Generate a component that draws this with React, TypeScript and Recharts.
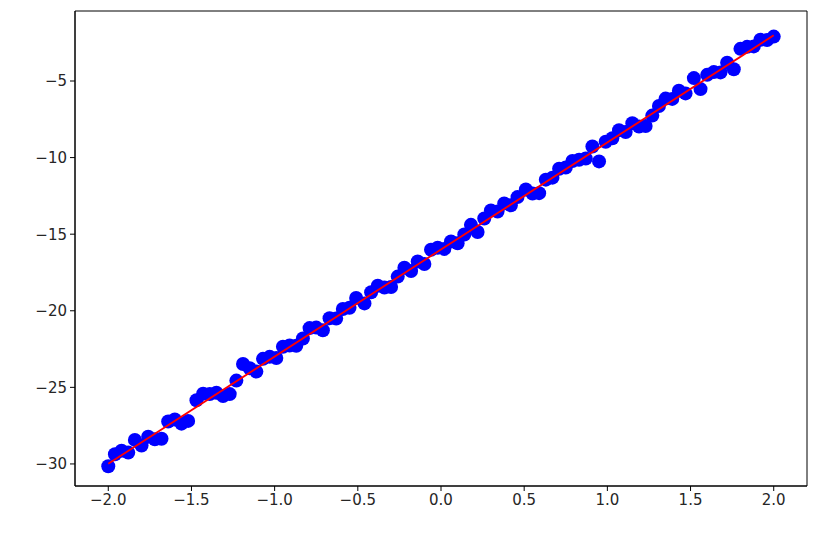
import React from "react";
import {
  ReferenceArea,
  Scatter,
  ScatterChart,
  XAxis,
  YAxis,
} from "recharts";

const xs = [
  -2.0, -1.96, -1.92, -1.88, -1.84, -1.8, -1.76, -1.72, -1.68, -1.64,
  -1.6, -1.56, -1.52, -1.47, -1.43, -1.39, -1.35, -1.31, -1.27, -1.23,
  -1.19, -1.15, -1.11, -1.07, -1.03, -0.99, -0.95, -0.91, -0.87, -0.83,
  -0.79, -0.75, -0.71, -0.67, -0.63, -0.59, -0.55, -0.51, -0.46, -0.42,
  -0.38, -0.34, -0.3, -0.26, -0.22, -0.18, -0.14, -0.1, -0.06, -0.02,
  0.02, 0.06, 0.1, 0.14, 0.18, 0.22, 0.26, 0.3, 0.34, 0.38,
  0.42, 0.46, 0.51, 0.55, 0.59, 0.63, 0.67, 0.71, 0.75, 0.79,
  0.83, 0.87, 0.91, 0.95, 0.99, 1.03, 1.07, 1.11, 1.15, 1.19,
  1.23, 1.27, 1.31, 1.35, 1.39, 1.43, 1.47, 1.52, 1.56, 1.6,
  1.64, 1.68, 1.72, 1.76, 1.8, 1.84, 1.88, 1.92, 1.96, 2.0,
];

const ys = [
  -30.15, -29.37, -29.14, -29.26, -28.43, -28.8, -28.22, -28.39, -28.36, -27.23,
  -27.1, -27.37, -27.19, -25.84, -25.41, -25.43, -25.35, -25.57, -25.44, -24.56,
  -23.48, -23.75, -23.97, -23.14, -23.01, -23.08, -22.35, -22.27, -22.29, -21.81,
  -21.13, -21.1, -21.27, -20.49, -20.51, -19.88, -19.8, -19.17, -19.52, -18.79,
  -18.36, -18.48, -18.45, -17.77, -17.19, -17.41, -16.78, -16.95, -16.02, -15.89,
  -15.96, -15.48, -15.6, -15.02, -14.39, -14.86, -13.98, -13.45, -13.52, -12.99,
  -13.11, -12.58, -12.08, -12.35, -12.32, -11.44, -11.31, -10.73, -10.65, -10.22,
  -10.14, -10.06, -9.28, -10.25, -8.97, -8.74, -8.21, -8.33, -7.75, -7.97,
  -7.94, -7.26, -6.63, -6.15, -6.17, -5.64, -5.81, -4.81, -5.53, -4.6,
  -4.42, -4.44, -3.81, -4.23, -2.9, -2.77, -2.74, -2.31, -2.33, -2.1,
];

// fitted line end points
const fitX = [-2.0, 2.0];
const fitY = [-29.98, -2.02];

const xTicks = [-2.0, -1.5, -1.0, -0.5, 0.0, 0.5, 1.0, 1.5, 2.0];
const yTicks = [-30, -25, -20, -15, -10, -5];

const points = xs.map((x, i) => ({ x, y: ys[i] }));
const fit = fitX.map((x, i) => ({ x, y: fitY[i] }));

const minus = (s: string) => s.replace("-", "\u2212");

const Dot = (props: any) => (
  <circle cx={props.cx} cy={props.cy} r={7} fill="#0000ff" />
);

export default function App() {
  return (
    <div style={{ position: "absolute", left: 0, top: 0, background: "#fff" }}>
      <ScatterChart
        width={819}
        height={533}
        margin={{ top: 11, right: 12, bottom: 17, left: 15 }}
      >
        <XAxis
          type="number"
          dataKey="x"
          domain={[-2.2, 2.2]}
          ticks={xTicks}
          allowDataOverflow
          height={30}
          tickSize={5}
          tickMargin={3}
          stroke="#000"
          tick={{ fill: "#262626", fontSize: 15, fontFamily: "DejaVu Sans" }}
          tickFormatter={(v: number) => minus(v.toFixed(1))}
        />
        <YAxis
          type="number"
          dataKey="y"
          domain={[-31.44, -0.43]}
          ticks={yTicks}
          allowDataOverflow
          width={60}
          tickSize={5}
          tickMargin={3}
          stroke="#000"
          tick={{ fill: "#262626", fontSize: 15, fontFamily: "DejaVu Sans" }}
          tickFormatter={(v: number) => minus(String(v))}
        />
        <ReferenceArea
          x1={-2.2}
          x2={2.2}
          y1={-31.44}
          y2={-0.43}
          fill="none"
          stroke="#000"
          strokeWidth={1}
        />
        <Scatter
          data={points}
          shape={Dot}
          isAnimationActive={false}
        />
        <Scatter
          data={fit}
          line={{ stroke: "#ff0000", strokeWidth: 1.8 }}
          shape={() => null}
          isAnimationActive={false}
        />
      </ScatterChart>
    </div>
  );
}
